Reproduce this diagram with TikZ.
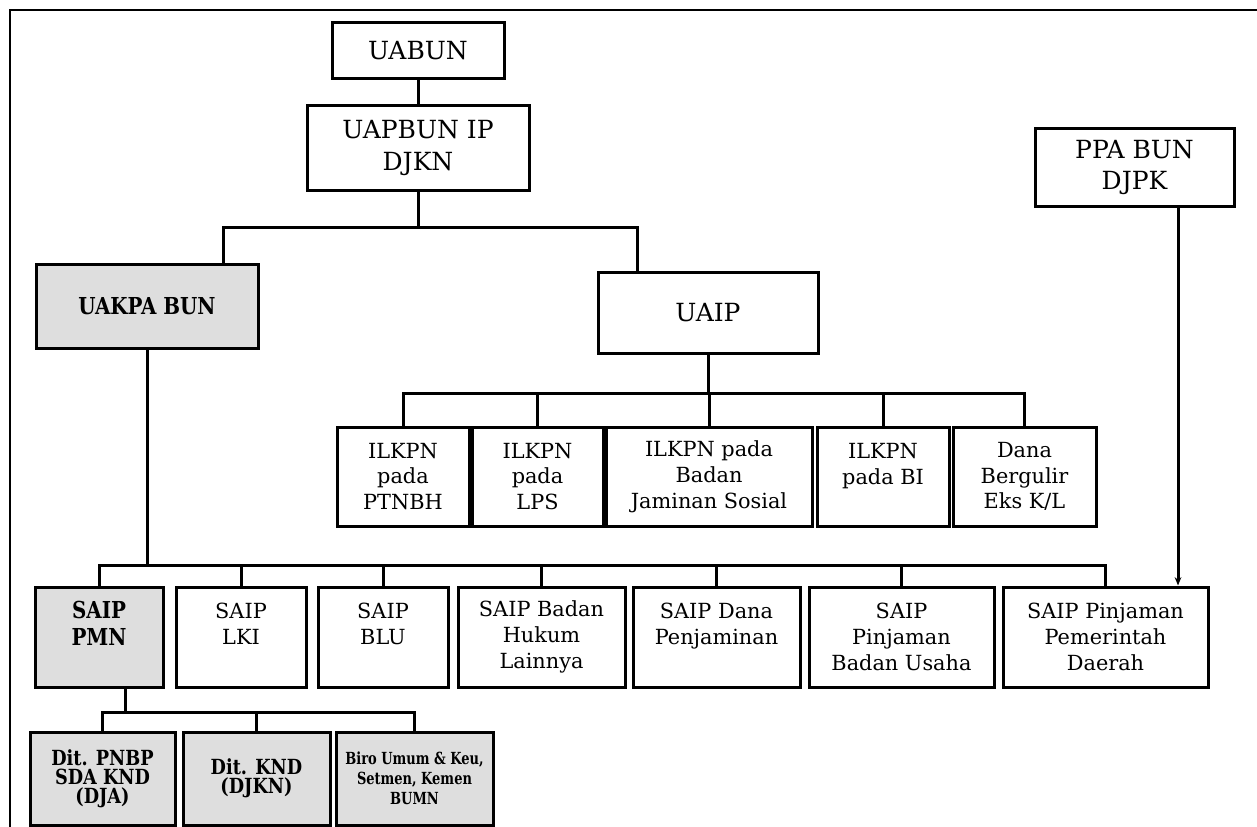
\documentclass[tikz,border=0pt]{standalone}
\usepackage{fontspec}
\setmainfont{DejaVu Serif}
\newfontfamily\boldser[FakeStretch=0.85]{DejaVu Serif}
\newfontfamily\boldnar[FakeStretch=0.78]{DejaVu Serif}
\usetikzlibrary{arrows.meta}
\newcommand\mybox[6]{\node[#1,minimum width={(#4-#2)*0.6pt},minimum height={(#5-#3)*0.6pt}] (#6) at ({(#2+#4)/2},{(#3+#5)/2})}
\begin{document}
\begin{tikzpicture}[x=0.6pt,y=-0.6pt,
 box/.style={draw,line width=1.8pt,align=center,inner sep=1pt,fill=white,font=\fontsize{12.5}{15.5}\selectfont},
 bigbox/.style={box,font=\fontsize{15}{19}\selectfont},
 shbox/.style={box,fill=black!13,font=\boldser\bfseries\fontsize{14}{16}\selectfont},
 smbox/.style={box,fill=black!13,font=\boldser\bfseries\fontsize{12.5}{11.5}\selectfont},
 tinybox/.style={box,fill=black!13,font=\boldnar\bfseries\fontsize{10}{12}\selectfont},
 conn/.style={line width=1.8pt}]
\useasboundingbox (0,0) rectangle (1257,827);
% frame
\draw[line width=1.1pt] (10,827) -- (10,10) -- (1257,10);
% top
\mybox{bigbox}{332}{23}{504}{79}{uabun} {UABUN};
\mybox{bigbox}{307}{106}{529}{190}{uapbun} {UAPBUN IP\\DJKN};
\mybox{bigbox}{1035}{129}{1234}{206}{ppa} {PPA BUN\\DJPK};
\mybox{shbox}{36}{264}{258}{348}{uakpa} {UAKPA BUN};
\mybox{bigbox}{598}{272}{818}{353}{uaip} {UAIP};
% ILKPN row
\mybox{box}{337}{427}{469}{526}{ilk1} {ILKPN\\pada\\PTNBH};
\mybox{box}{472}{427}{603}{526}{ilk2} {ILKPN\\pada\\LPS};
\mybox{box}{606}{427}{812}{526}{ilk3} {ILKPN pada\\Badan\\Jaminan Sosial};
\mybox{box}{817}{427}{949}{526}{ilk4} {ILKPN\\pada BI\\\mbox{}};
\mybox{box}{953}{427}{1096}{526}{ilk5} {Dana\\Bergulir\\Eks K/L};
% SAIP row
\mybox{shbox}{35}{587}{163}{687}{s1} {SAIP\\PMN\\\mbox{}};
\mybox{box}{176}{587}{306}{687}{s2} {SAIP\\LKI\\\mbox{}};
\mybox{box}{318}{587}{448}{687}{s3} {SAIP\\BLU\\\mbox{}};
\mybox{box}{458}{587}{625}{687}{s4} {SAIP Badan\\Hukum\\Lainnya};
\mybox{box}{633}{587}{800}{687}{s5} {SAIP Dana\\Penjaminan\\\mbox{}};
\mybox{box}{809}{587}{994}{687}{s6} {SAIP\\Pinjaman\\Badan Usaha};
\mybox{box}{1003}{587}{1208}{687}{s7} {SAIP Pinjaman\\Pemerintah\\Daerah};
% bottom row
\mybox{smbox}{30}{732}{175}{825}{d1} {Dit. PNBP\\SDA KND\\(DJA)};
\mybox{smbox}{183}{732}{330}{825}{d2} {Dit. KND\\(DJKN)};
\mybox{tinybox}{336}{732}{493}{825}{d3} {Biro Umum \& Keu,\\Setmen, Kemen\\BUMN};
% connectors
\coordinate (tL) at (223,227); \coordinate (tR) at (637,227);
\draw[conn] (uabun.south) -- (uapbun.north);
\draw[conn] (uapbun.south) -- (uapbun.south |- tL);
\draw[conn] (uakpa.north -| tL) -- (tL) -- (tR) -- (uaip.north -| tR);
\coordinate (iy) at (0,393);
\draw[conn] (uaip.south) -- (uaip.south |- iy);
\draw[conn] (ilk1.north) -- (ilk1.north |- iy) -- (ilk5.north |- iy) -- (ilk5.north);
\foreach \n in {ilk2,ilk3,ilk4} \draw[conn] (\n.north) -- (\n.north |- iy);
\coordinate (sy) at (0,565);
\draw[conn] (uakpa.south) -- (uakpa.south |- sy);
\draw[conn] (s1.north) -- (s1.north |- sy) -- (s7.north |- sy) -- (s7.north);
\foreach \n in {s2,s3,s4,s5,s6} \draw[conn] (\n.north) -- (\n.north |- sy);
\coordinate (by) at (0,712); \coordinate (pmx) at (125,0);
\draw[conn] (s1.south -| pmx) -- (pmx |- by);
\draw[conn] (d1.north) -- (d1.north |- by) -- (d3.north |- by) -- (d3.north);
\draw[conn] (d2.north) -- (d2.north |- by);
\coordinate (px) at (1178,0);
\draw[conn,-{Stealth[length=5pt,width=4pt]}] (ppa.south -| px) -- (s7.north -| px);
\end{tikzpicture}
\end{document}
